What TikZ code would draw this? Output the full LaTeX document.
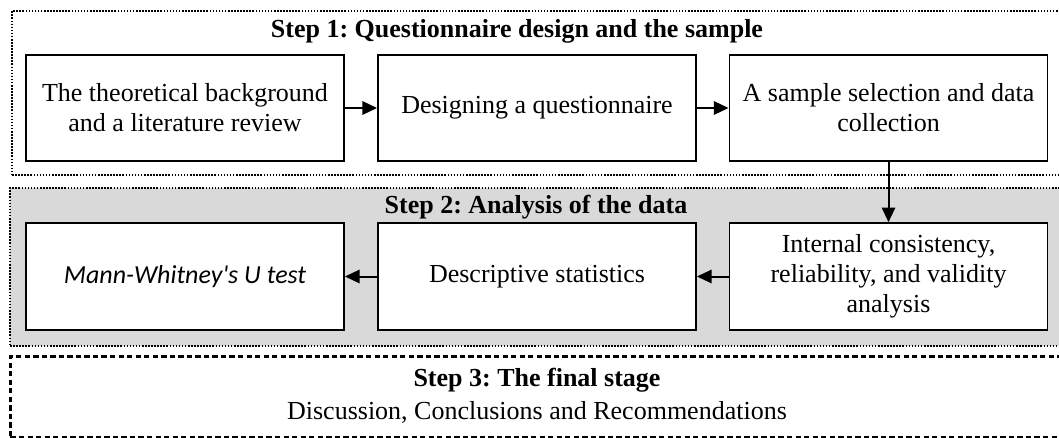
\documentclass[tikz,border=0pt]{standalone}
\usepackage{fontspec}
\setmainfont{Liberation Serif}
\newfontfamily\mwfont{Carlito}
\usetikzlibrary{arrows.meta}
\definecolor{stepgrey}{HTML}{D9D9D9}
\frenchspacing
\tikzset{
  x=0.75pt, y=-0.75pt,
  txt/.style={font=\fontsize{19.5}{22.5}\selectfont},
  ttl/.style={font=\fontsize{19.5}{22.5}\selectfont\bfseries, inner sep=0pt},
  proc/.style={draw, line width=1.4pt, fill=white, align=center, minimum width=238.5pt, minimum height=80pt, inner sep=2pt, txt},
  outerdot/.style={draw, line width=1.6pt, dash pattern=on 1.2pt off 1.1pt, anchor=north west, inner sep=0pt},
  outerdash/.style={draw, line width=2.2pt, dash pattern=on 4pt off 2.4pt, anchor=north west, inner sep=0pt},
  flow/.style={line width=1.5pt, -{Triangle[length=11pt,width=10pt]}}
}
\begin{document}
\begin{tikzpicture}
\useasboundingbox (0,0) rectangle (1059,438);
% outer frames
\node[outerdot, minimum width=788.25pt, minimum height=123pt] (s1) at (11,10) {};
\node[outerdot, fill=stepgrey, minimum width=789.75pt, minimum height=118.5pt] (s2) at (9,187) {};
\node[outerdash, minimum width=789.75pt, minimum height=60.75pt] (s3) at (9,355) {};
% titles
\node[ttl] (t1) at (517,31) {Step 1: Questionnaire design and the sample};
\node[ttl] (t2) at (536,207) {Step 2: Analysis of the data};
\node[ttl] (t3) at (537,380) {Step 3: The final stage};
\node[txt, inner sep=0pt] (t3b) at (537,412) {Discussion, Conclusions and Recommendations};
% step 1 boxes
\node[proc] (b1) at (185,108) {The theoretical background\\and a literature review};
\node[proc] (b2) at (537,108) {Designing a questionnaire};
\node[proc] (b3) at (888.5,108) {A sample selection and data\\collection};
% step 2 boxes
\node[proc] (c3) at (888.5,276.5) {Internal consistency,\\reliability, and validity\\analysis};
\node[proc] (c2) at (537,276.5) {Descriptive statistics};
\node[proc, font=\fontsize{19.5}{22.5}\selectfont\mwfont\itshape] (c1) at (185,276.5) {Mann-Whitney's U test};
% connectors
\draw[flow] (b1) -- (b2);
\draw[flow] (b2) -- (b3);
\draw[flow] (b3) -- (c3);
\draw[flow] (c3) -- (c2);
\draw[flow] (c2) -- (c1);
\end{tikzpicture}
\end{document}
